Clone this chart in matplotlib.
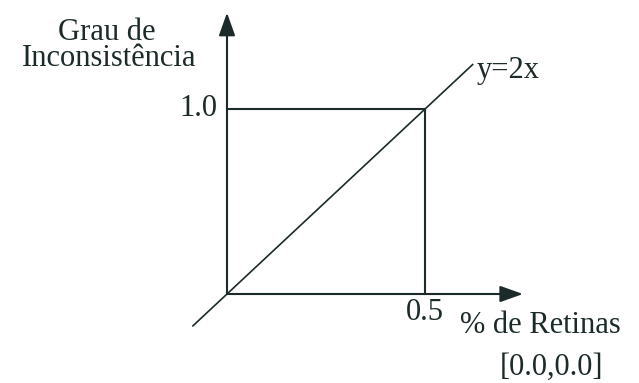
import matplotlib
matplotlib.use('Agg')
import matplotlib.pyplot as plt

# Diagram values
x_mark = 0.5          # % de Retinas where inconsistency saturates
y_mark = 1.0          # max grau de inconsistencia
line_x = [-0.086, 0.62]   # drawn extent of y=2x
line_y = [-0.172, 1.24]
x_axis_end = 0.747
y_axis_end = 1.52

ink = '#1c2a2a'
fs = 22
plt.rcParams['font.family'] = ['Liberation Serif', 'DejaVu Serif']

fig = plt.figure(figsize=(6.39, 3.83), dpi=100)
ax = fig.add_axes([0, 0, 1, 1])
ax.set_xlim(-0.573, 1.040)
ax.set_ylim(-0.481, 1.589)
ax.axis('off')

# Axes with arrow heads
arrow = dict(arrowstyle='-|>,head_length=1.4,head_width=0.5', color=ink,
             lw=1.5, shrinkA=0, shrinkB=0)
ax.annotate('', xy=(x_axis_end, 0), xytext=(0, 0), arrowprops=arrow)
ax.annotate('', xy=(0, y_axis_end), xytext=(0, 0), arrowprops=arrow)

# Box and the y=2x line
ax.plot([0, x_mark], [y_mark, y_mark], color=ink, lw=1.5)
ax.plot([x_mark, x_mark], [0, y_mark], color=ink, lw=1.5)
ax.plot(line_x, line_y, color=ink, lw=1.2)

# Labels
ax.text(line_x[1] + 0.01, line_y[1] - 0.03, 'y=2x', fontsize=fs, color=ink,
        ha='left', va='center')
ax.text(-0.025, y_mark, f'{y_mark:.1f}', fontsize=fs, color=ink, ha='right', va='center')
ax.text(x_mark, -0.1, f'{x_mark:.1f}', fontsize=fs, color=ink, ha='center', va='center')
ax.text(0.79, -0.17, '% de Retinas', fontsize=fs, color=ink, ha='center', va='center')
ax.text(0.818, -0.395, '[0.0,0.0]', fontsize=fs, color=ink, ha='center', va='center')
ax.text(-0.303, 1.416, 'Grau de', fontsize=fs, color=ink, ha='center', va='center')
ax.text(-0.298, 1.275, 'Inconsistência', fontsize=fs, color=ink, ha='center', va='center')

fig.savefig('out.png', dpi=100)
